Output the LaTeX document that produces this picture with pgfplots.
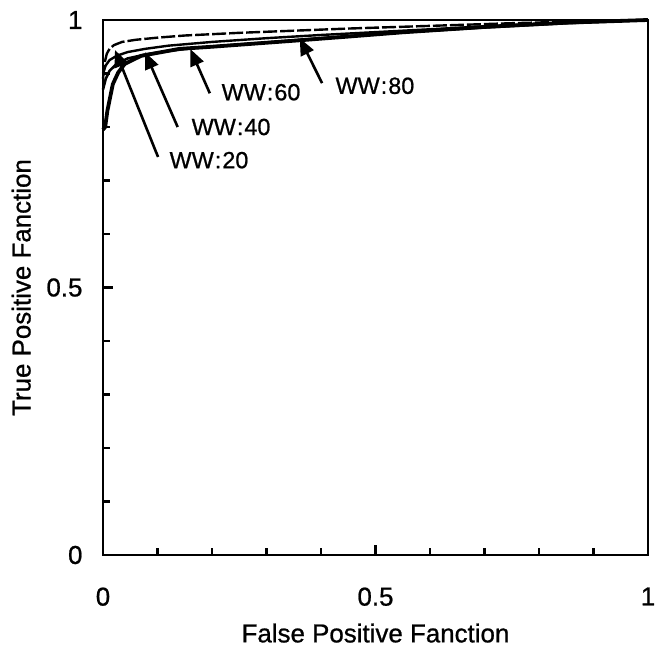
\documentclass[border=0pt]{standalone}
\usepackage{fontspec}
\setmainfont{Liberation Sans}
\newfontface\heavy{Liberation Sans}[FakeBold=0.8]
\usepackage{pgfplots}
\pgfplotsset{compat=1.18}
\usetikzlibrary{arrows.meta}

% ROC curves for four window widths
\pgfplotstableread{
x y
0 0.89
0.003 0.92
0.007 0.937
0.012 0.946
0.02 0.953
0.035 0.959
0.06 0.963
0.1 0.967
0.15 0.971
0.25 0.976
0.35 0.980
0.45 0.984
0.6 0.989
0.75 0.994
0.9 0.998
1 1
}\wwtwenty
\pgfplotstableread{
x y
0 0.90
0.005 0.915
0.012 0.925
0.025 0.933
0.045 0.940
0.077 0.946
0.12 0.952
0.2 0.959
0.3 0.966
0.4 0.972
0.55 0.980
0.7 0.988
0.85 0.995
1 1
}\wwforty
\pgfplotstableread{
x y
0 0.87
0.005 0.89
0.012 0.905
0.025 0.918
0.045 0.928
0.08 0.936
0.12 0.942
0.16 0.947
0.22 0.952
0.3 0.958
0.4 0.966
0.55 0.977
0.7 0.986
0.85 0.994
1 1
}\wwsixty
\pgfplotstableread{
x y
0 0.795
0.004 0.80
0.008 0.83
0.013 0.855
0.018 0.88
0.028 0.902
0.04 0.918
0.07 0.933
0.14 0.946
0.2 0.950
0.28 0.956
0.36 0.962
0.45 0.969
0.55 0.977
0.7 0.987
0.85 0.995
1 1
}\wweighty

\begin{document}
\begin{tikzpicture}
\begin{axis}[
  scale only axis,
  width=545bp, height=535bp,
  xmin=0, xmax=1, ymin=0, ymax=1,
  xtick={0,0.5,1}, ytick={0,0.5,1},
  xticklabels={0,0.5,1}, yticklabels={0,0.5,1},
  minor xtick={0.1,0.2,0.3,0.4,0.6,0.7,0.8,0.9},
  minor ytick={0.1,0.2,0.3,0.4,0.6,0.7,0.8,0.9},
  tick align=inside,
  xtick pos=left, ytick pos=left,
  major tick length=10bp, minor tick length=7bp,
  every tick/.style={black, line width=2.4bp},
  axis line style={line width=2.8bp},
  /pgf/number format/assume math mode=true,
  ticklabel style={font=\heavy\fontsize{26}{30}\selectfont},
  xticklabel style={yshift=-29bp},
  yticklabel style={xshift=-17bp},
  xlabel={False Positive Fanction},
  ylabel={True Positive Fanction},
  label style={font=\heavy\fontsize{26}{30}\selectfont},
  xlabel style={at={(axis description cs:0.5,-0.146)}, anchor=center},
  ylabel style={at={(axis description cs:-0.150,0.5)}, anchor=center},
  clip=false,
]
\addplot[black, line width=2.4bp, dash pattern=on 14bp off 3bp] table[x=x,y=y] {\wwtwenty};
\addplot[black, line width=2.4bp] table[x=x,y=y] {\wwforty};
\addplot[black, line width=2.6bp] table[x=x,y=y] {\wwsixty};
\addplot[black, line width=3.8bp] table[x=x,y=y] {\wweighty};

\tikzset{ann/.style={black, line width=2.6bp, -{Triangle[length=17bp,width=14bp]}},
         lab/.style={font=\heavy\fontsize{23.5}{28}\selectfont, anchor=center}}
\draw[ann] (axis cs:0.101,0.744) -- (axis cs:0.022,0.944);
\draw[ann] (axis cs:0.137,0.800) -- (axis cs:0.077,0.940);
\draw[ann] (axis cs:0.196,0.863) -- (axis cs:0.160,0.946);
\draw[ann] (axis cs:0.402,0.882) -- (axis cs:0.361,0.966);
\node[lab] at (axis cs:0.1945,0.738) {WW{\kern1bp}:{\kern1bp}20};
\node[lab] at (axis cs:0.235,0.800) {WW{\kern1bp}:{\kern1bp}40};
\node[lab] at (axis cs:0.290,0.865) {WW{\kern1bp}:{\kern1bp}60};
\node[lab] at (axis cs:0.499,0.877) {WW{\kern1bp}:{\kern1bp}80};
\end{axis}
\path (current axis.south west) ++(-103bp,-107bp) coordinate (bbl);
\path (current axis.north east) ++(6bp,20bp) coordinate (bbr);
\path (bbl) rectangle (bbr);
\end{tikzpicture}
\end{document}
